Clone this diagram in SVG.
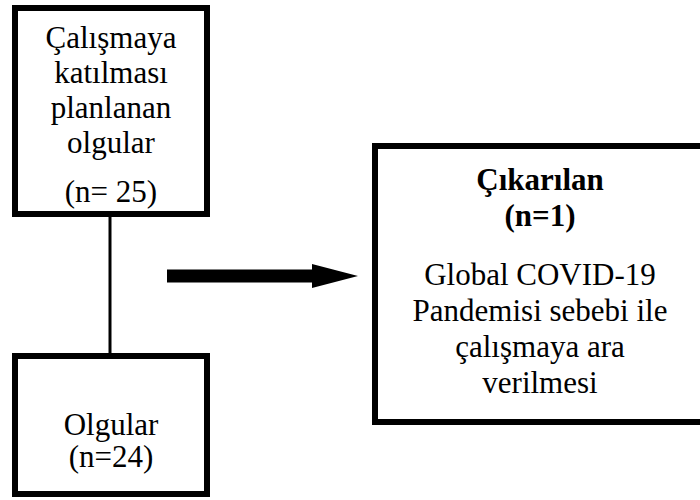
<svg xmlns="http://www.w3.org/2000/svg" width="700" height="500" viewBox="0 0 700 500">
<style>
.box{fill:#fff;stroke:#000;stroke-width:6}
.t{font-family:"Liberation Serif","Times New Roman",serif;font-size:31px;fill:#000;text-anchor:middle}
.b{font-weight:bold}
</style>
<rect width="700" height="500" fill="#fff"/>
<g id="connectors">
<line x1="110" y1="217" x2="110" y2="353" stroke="#000" stroke-width="3"/>
<polygon points="167,269.5 312,269.5 312,264 358,276 312,288 312,282.5 167,282.5" fill="#000"/>
</g>
<g id="planned">
<rect class="box" x="15" y="8" width="192" height="206"/>
<text class="t" x="111" y="48">Çalışmaya</text>
<text class="t" x="111" y="83">katılması</text>
<text class="t" x="111" y="118">planlanan</text>
<text class="t" x="111" y="153">olgular</text>
<text class="t" x="111" y="202">(n= 25)</text>
</g>
<g id="cases">
<rect class="box" x="15" y="356" width="192" height="138"/>
<text class="t" x="111" y="435">Olgular</text>
<text class="t" x="111" y="467">(n=24)</text>
</g>
<g id="excluded">
<rect class="box" x="375" y="146" width="330" height="276"/>
<text class="t b" x="540" y="190">Çıkarılan</text>
<text class="t b" x="540" y="226">(n=1)</text>
<text class="t" x="540" y="285">Global COVID-19</text>
<text class="t" x="540" y="321">Pandemisi sebebi ile</text>
<text class="t" x="540" y="357">çalışmaya ara</text>
<text class="t" x="540" y="393">verilmesi</text>
</g>
</svg>
